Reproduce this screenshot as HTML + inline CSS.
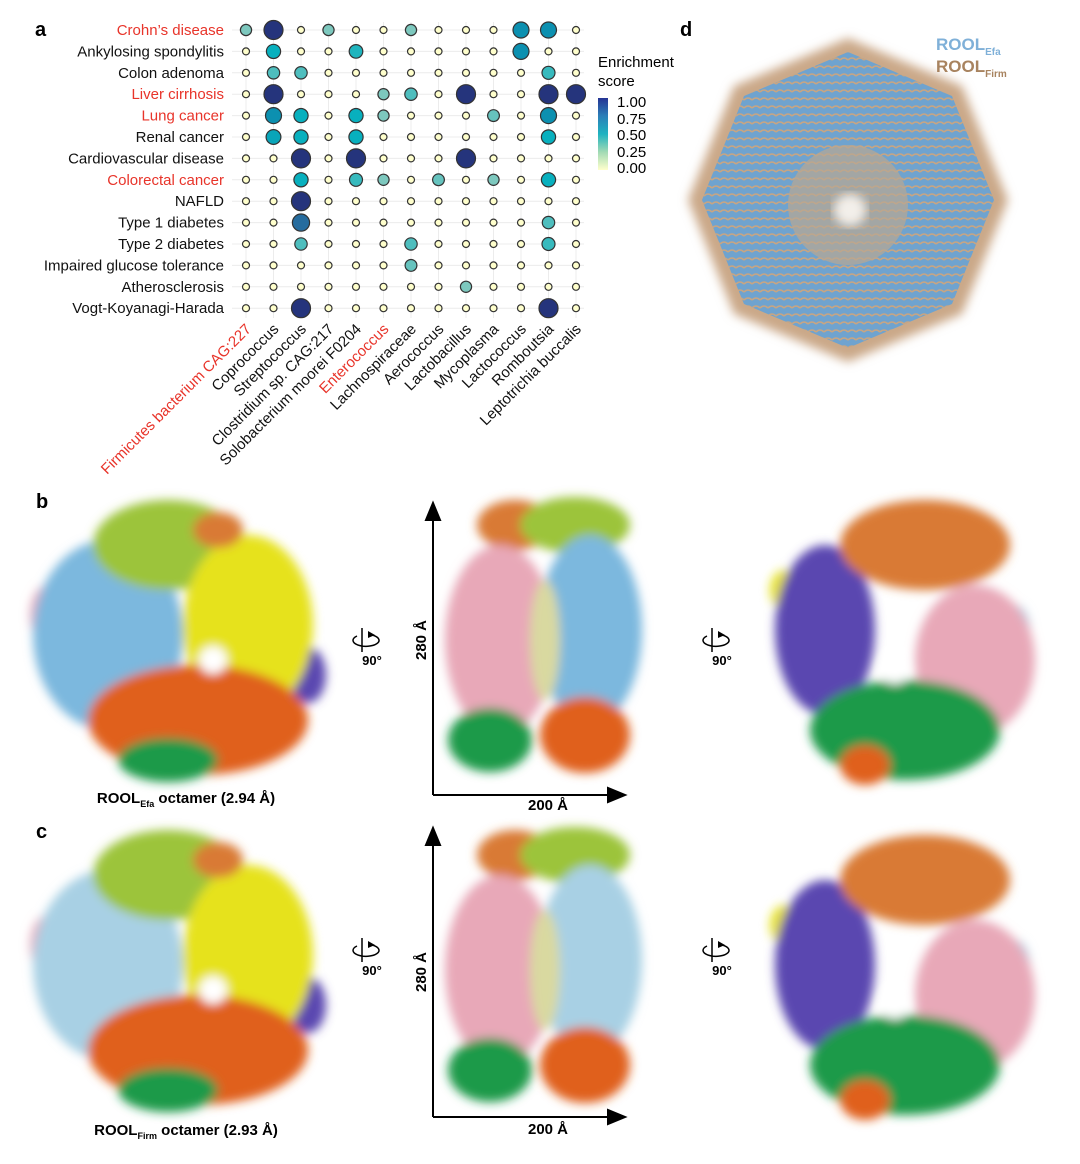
<!DOCTYPE html>
<html><head><meta charset="utf-8"><style>
body{margin:0;background:#fff;font-family:"Liberation Sans",sans-serif;}
svg{display:block}
</style></head><body>
<svg id="fig" width="1080" height="1164" viewBox="0 0 1080 1164" xmlns="http://www.w3.org/2000/svg" font-family="Liberation Sans, sans-serif">
<defs>
<linearGradient id="cbar" x1="0" y1="1" x2="0" y2="0">
<stop offset="0" stop-color="#ffffcc"/><stop offset="0.25" stop-color="#a1dab4"/><stop offset="0.5" stop-color="#1fb3c0"/><stop offset="0.75" stop-color="#2c7fb8"/><stop offset="1" stop-color="#253494"/>
</linearGradient>
<filter id="blur" x="-10%" y="-10%" width="120%" height="120%"><feGaussianBlur stdDeviation="5"/></filter>
<pattern id="tex" width="8" height="8" patternUnits="userSpaceOnUse"><rect width="8" height="8" fill="#6fa3cf"/><path d="M0,4 Q4,0 8,4" stroke="#c7a583" stroke-width="1.6" fill="none"/></pattern>
</defs>
<text x="35" y="36" font-size="20" font-weight="bold">a</text>
<text x="680" y="36" font-size="20" font-weight="bold">d</text>
<text x="36" y="508" font-size="20" font-weight="bold">b</text>
<text x="36" y="838" font-size="20" font-weight="bold">c</text>
<g id="dotplot"></g>
<g>
<text x="598" y="67" font-size="15">Enrichment</text>
<text x="598" y="86" font-size="15">score</text>
<rect x="598" y="98" width="10" height="72" fill="url(#cbar)"/>
<text x="617" y="107" font-size="15">1.00</text>
<text x="617" y="124" font-size="15">0.75</text>
<text x="617" y="140" font-size="15">0.50</text>
<text x="617" y="157" font-size="15">0.25</text>
<text x="617" y="173" font-size="15">0.00</text>
</g>
<g>
<polygon points="848,38 962,86 1008,200 962,314 848,362 734,314 688,200 734,86" fill="#caa888" filter="url(#blur)"/>
<polygon points="848,52 952,96 994,200 952,304 848,348 744,304 702,200 744,96" fill="url(#tex)"/>
<circle cx="848" cy="205" r="60" fill="#b9a691" opacity="0.7"/>
<circle cx="850" cy="210" r="16" fill="#f3efea" filter="url(#blur)"/>
<text x="936" y="50" font-size="17" font-weight="bold" fill="#7fb0d8">ROOL<tspan font-size="10" dy="5">Efa</tspan></text>
<text x="936" y="72" font-size="17" font-weight="bold" fill="#a8835f">ROOL<tspan font-size="10" dy="5">Firm</tspan></text>
</g>
<g id="structs"></g>
<g stroke="#000" stroke-width="2" fill="#000">
<line x1="433" y1="795" x2="433" y2="515"/><polygon points="426,520 440,520 433,503"/>
<line x1="433" y1="795" x2="610" y2="795"/><polygon points="608,788 608,802 625,795"/>
<line x1="433" y1="1117" x2="433" y2="840"/><polygon points="426,845 440,845 433,828"/>
<line x1="433" y1="1117" x2="610" y2="1117"/><polygon points="608,1110 608,1124 625,1117"/>
</g>
<g font-size="15" font-weight="bold">
<text x="548" y="810" text-anchor="middle">200 Å</text>
<text x="548" y="1134" text-anchor="middle">200 Å</text>
<text transform="translate(426,640) rotate(-90)" text-anchor="middle">280 Å</text>
<text transform="translate(426,972) rotate(-90)" text-anchor="middle">280 Å</text>
<text x="186" y="803" text-anchor="middle">ROOL<tspan font-size="9" dy="4">Efa</tspan><tspan dy="-4"> octamer (2.94 Å)</tspan></text>
<text x="186" y="1135" text-anchor="middle">ROOL<tspan font-size="9" dy="4">Firm</tspan><tspan dy="-4"> octamer (2.93 Å)</tspan></text>
</g>
<g id="rots"></g>
</svg>
<script>
const NS='http://www.w3.org/2000/svg';
const diseases=['Crohn’s disease','Ankylosing spondylitis','Colon adenoma','Liver cirrhosis','Lung cancer','Renal cancer','Cardiovascular disease','Colorectal cancer','NAFLD','Type 1 diabetes','Type 2 diabetes','Impaired glucose tolerance','Atherosclerosis','Vogt-Koyanagi-Harada'];
const redDiseases=[0,3,4,7];
const taxa=['Firmicutes bacterium CAG:227','Coprococcus','Streptococcus','Clostridium sp. CAG:217','Solobacterium moorei F0204','Enterococcus','Lachnospiraceae','Aerococcus','Lactobacillus','Mycoplasma','Lactococcus','Romboutsia','Leptotrichia buccalis'];
const redTaxa=[0,5];
const scores=[
[0.35,1,0,0.35,0,0,0.35,0,0,0,0.75,0.75,0],
[0,0.6,0,0,0.55,0,0,0,0,0,0.75,0,0],
[0,0.45,0.45,0,0,0,0,0,0,0,0,0.5,0],
[0,1,0,0,0,0.35,0.45,0,1,0,0,1,1],
[0,0.75,0.6,0,0.6,0.35,0,0,0,0.4,0,0.75,0],
[0,0.65,0.6,0,0.6,0,0,0,0,0,0,0.6,0],
[0,0,1,0,1,0,0,0,1,0,0,0,0],
[0,0,0.6,0,0.5,0.35,0,0.4,0,0.35,0,0.6,0],
[0,0,1,0,0,0,0,0,0,0,0,0,0],
[0,0,0.85,0,0,0,0,0,0,0,0,0.45,0],
[0,0,0.45,0,0,0,0.45,0,0,0,0,0.5,0],
[0,0,0,0,0,0,0.4,0,0,0,0,0,0],
[0,0,0,0,0,0,0,0,0.35,0,0,0,0],
[0,0,1,0,0,0,0,0,0,0,0,1,0]];
const x=i=>246+i*27.5, y=j=>30+j*21.4, r=v=>3.5+v*6;
function col(v){const s=[[0,[255,255,204]],[0.35,[125,200,190]],[0.6,[8,176,190]],[0.75,[12,144,176]],[0.85,[38,108,158]],[1,[37,52,124]]];
for(let k=1;k<s.length;k++){if(v<=s[k][0]){const[a,ca]=s[k-1],[b,cb]=s[k];const t=(v-a)/(b-a);return 'rgb('+ca.map((c,i)=>Math.round(c+(cb[i]-c)*t)).join(',')+')';}}return 'rgb(37,52,124)';}
const g=document.getElementById('dotplot');
function mk(tag,attrs,parent){const e=document.createElementNS(NS,tag);for(const k in attrs)e.setAttribute(k,attrs[k]);(parent||g).appendChild(e);return e;}
diseases.forEach((d,j)=>{
 const l=mk('line',{x1:232,x2:584,y1:y(j),y2:y(j),stroke:'#ececec'});
 
 
 const t=mk('text',{x:224,y:y(j)+5,'text-anchor':'end','font-size':15,fill:redDiseases.includes(j)?'#e8342a':'#111'});
 t.textContent=d;
 
 
});
taxa.forEach((s,i)=>{
 const l=mk('line',{x1:x(i),x2:x(i),y1:22,y2:318,stroke:'#ececec'});
 
 
 const t=mk('text',{transform:`translate(${x(i)+6},${330}) rotate(-45)`,'text-anchor':'end','font-size':15,fill:redTaxa.includes(i)?'#e8342a':'#111'});
 t.textContent=s;
 
 
});
scores.forEach((row,j)=>row.forEach((v,i)=>{
 const c=mk('circle',{cx:x(i),cy:y(j),r:r(v),fill:col(v),stroke:'#333','stroke-width':1.2});
 
 
}));
const S=document.getElementById('structs');
const blobs=(cx,cy,list,name)=>{const gg=mk('g',{filter:'url(#blur)'},S);
 
 
 list.forEach(b=>mk('ellipse',{cx:cx+b[0],cy:cy+b[1],rx:b[2],ry:b[3],fill:b[4]},gg));};
const G='#9cc43a',Y='#e6e21f',B='#7cb8de',O='#e0601c',DG='#1e9a48',P='#5a46b0',PK='#e8a8b8',OR='#d97a35',LB='#a8d0e4';
const left=(cb)=>[[-130,-40,18,30,PK],[130,20,18,28,P],[-70,-20,75,95,cb],[-10,-110,75,45,G],[70,-30,65,90,Y],[20,65,110,55,O],[-10,105,50,22,DG],[40,-125,25,18,OR],[35,5,14,14,'#fff']];
const mid=[[-30,-125,38,25,OR],[30,-125,55,28,G],[-45,-10,55,95,PK],[45,-20,52,95,B],[-55,90,42,32,DG],[40,85,45,38,O],[0,-10,15,60,'#d9d9a0']];
const right=[[-120,-60,15,20,Y],[110,-20,15,25,LB],[-80,-20,50,85,P],[20,-105,85,45,OR],[70,10,60,75,PK],[0,80,95,50,DG],[-40,115,25,20,O],[-10,20,14,14,'#fff']];
blobs(178,655,left(B),'structure-b-front');
blobs(545,650,mid,'structure-b-side');
blobs(905,650,right,'structure-b-back');
blobs(178,985,left(LB),'structure-c-front');
blobs(545,980,mid.map(a=>a[4]===B?[...a.slice(0,4),LB]:a),'structure-c-side');
blobs(905,985,right,'structure-c-back');
const R=document.getElementById('rots');
[[362,650],[712,650],[362,960],[712,960]].forEach(p=>{
 const gg=mk('g',{},R);
 
 
 mk('line',{x1:p[0],x2:p[0],y1:p[1]-22,y2:p[1]+2,stroke:'#000','stroke-width':1.5},gg);
 mk('path',{d:`M${p[0]-5},${p[1]-14} A13,6 0 1,0 ${p[0]+10},${p[1]-15}`,fill:'none',stroke:'#000','stroke-width':1.5},gg);
 mk('polygon',{points:`${p[0]+6},${p[1]-19} ${p[0]+13},${p[1]-15} ${p[0]+6},${p[1]-12}`,fill:'#000'},gg);
 const t=mk('text',{x:p[0]+10,y:p[1]+15,'font-size':13,'font-weight':'bold','text-anchor':'middle'},gg);t.textContent='90°';
});
</script>
</body></html>
